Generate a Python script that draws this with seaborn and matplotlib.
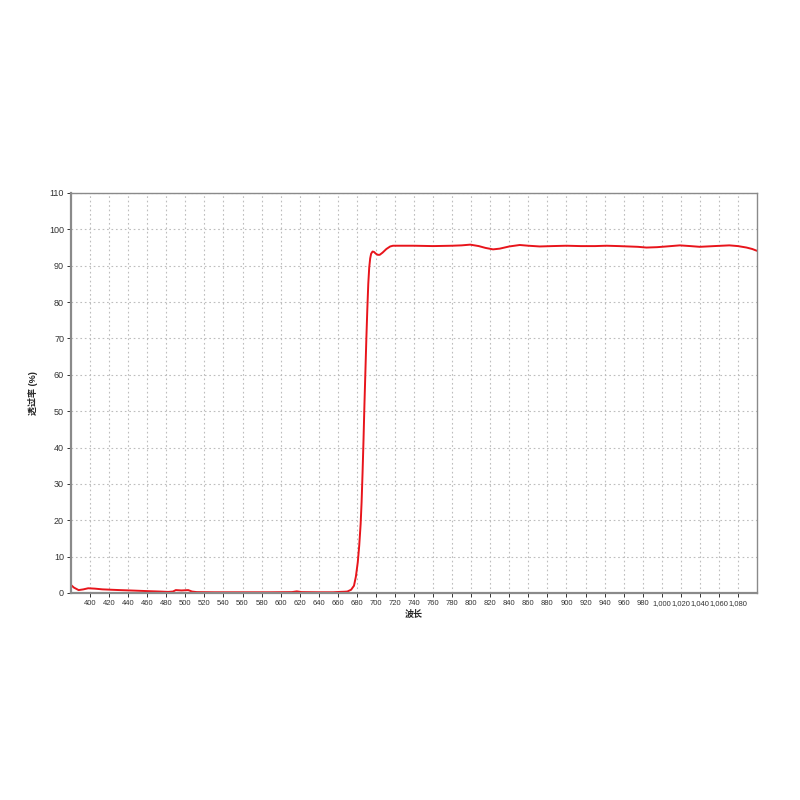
import pandas as pd
import matplotlib
matplotlib.use("Agg")
import matplotlib.pyplot as plt
import matplotlib.ticker as mticker
import seaborn as sns

# Wavelength (nm) and transmittance (%)
wavelength = [380, 383, 388, 393, 398, 405, 413, 422, 431, 442, 452, 462, 473, 482,
              487, 490, 496, 503, 507, 512, 530, 560, 590, 612, 617, 622, 640, 655,
              662, 667, 670, 674, 677, 679, 681, 682.5, 684, 685, 686, 687, 688, 689,
              690, 691, 692, 693, 694, 695, 696.5, 698, 700, 702, 704, 707, 711, 715,
              718, 740, 760, 780, 790, 799, 808, 815, 823, 830, 840, 851, 860, 872,
              885, 900, 915, 930, 942, 955, 965, 975, 984, 995, 1005, 1019, 1030,
              1040, 1055, 1071, 1080, 1089, 1095, 1100]
transmittance = [2.2, 1.5, 0.8, 1.0, 1.3, 1.2, 1.0, 0.9, 0.8, 0.7, 0.6, 0.5, 0.4, 0.3,
                 0.4, 0.8, 0.7, 0.8, 0.4, 0.25, 0.2, 0.2, 0.2, 0.25, 0.45, 0.25, 0.2, 0.2,
                 0.3, 0.35, 0.4, 0.9, 2.0, 4.5, 8.5, 13, 19, 25, 33, 42, 52, 61,
                 70, 78, 85, 89.5, 92, 93.3, 93.9, 93.8, 93.3, 93.0, 93.0, 93.6, 94.6, 95.3,
                 95.5, 95.5, 95.4, 95.5, 95.6, 95.8, 95.4, 94.9, 94.5, 94.7, 95.3, 95.7, 95.5, 95.3,
                 95.4, 95.5, 95.4, 95.4, 95.5, 95.4, 95.3, 95.2, 95.0, 95.1, 95.3, 95.6, 95.4,
                 95.2, 95.4, 95.6, 95.4, 95.0, 94.6, 94.1]

x_ticks = list(range(400, 1081, 20))
y_ticks = list(range(0, 111, 10))

df = pd.DataFrame({"wl": wavelength, "t": transmittance})

sns.set_theme(style="white")
plt.rcParams['font.family'] = ['Liberation Sans', 'Noto Sans CJK SC', 'DejaVu Sans']

fig = plt.figure(figsize=(8, 8), dpi=100)
ax = fig.add_axes([71 / 800, 1 - 593 / 800, (757 - 71) / 800, (593 - 193) / 800])

sns.lineplot(data=df, x="wl", y="t", color="#e8141b", linewidth=1.4, ax=ax)

ax.set_xlim(380, 1100)
ax.set_ylim(0, 110)
ax.set_xticks(x_ticks)
ax.set_yticks(y_ticks)
ax.xaxis.set_major_formatter(mticker.FuncFormatter(lambda v, p: f"{v:,.0f}"))
ax.grid(True, color="#bdbdbd", linestyle=(0, (1.5, 2.5)), linewidth=0.8)

ax.tick_params(axis="both", colors="#333333", length=3, width=0.7,
               direction="out", bottom=True, left=True, pad=2)
ax.tick_params(axis="x", labelsize=5.5)
ax.tick_params(axis="y", labelsize=6.5)
for side, sp in ax.spines.items():
    sp.set_color("#8a8a8a")
    sp.set_linewidth(1.6 if side in ("left", "bottom") else 1.0)

ax.set_xlabel("波长", fontsize=6.5, fontweight="bold", labelpad=2)
ax.set_ylabel("透过率 (%)", fontsize=6.5, fontweight="bold", labelpad=8)

fig.savefig("out.png", dpi=100, facecolor="white")
